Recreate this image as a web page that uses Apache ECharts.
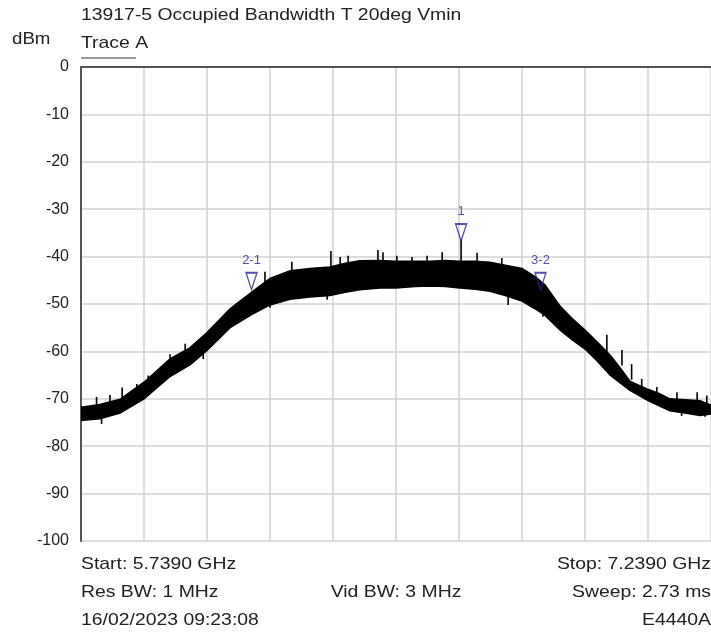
<!DOCTYPE html>
<html>
<head>
<meta charset="utf-8">
<script src="https://cdn.jsdelivr.net/npm/echarts@6/dist/echarts.min.js"></script>
<style>
  html, body { margin: 0; padding: 0; background: #fff; }
  #main { width: 711px; height: 636px; }
</style>
</head>
<body>
<div id="main"></div>
<script>
// sweep settings (GHz)
var startGHz = 5.739;
var stopGHz = 7.239;

// trace envelope, freq in GHz, level in dBm
var bandFreq = [5.739, 5.784, 5.832, 5.889, 5.951, 5.999, 6.039, 6.094, 6.144, 6.189,
                6.237, 6.284, 6.332, 6.368, 6.403, 6.451, 6.489, 6.534, 6.570, 6.606,
                6.641, 6.677, 6.713, 6.749, 6.789, 6.820, 6.844, 6.880, 6.908, 6.939,
                6.968, 6.999, 7.022, 7.046, 7.089, 7.118, 7.141, 7.177, 7.213, 7.239];
var bandLow  = [-74.6, -74.2, -73.0, -70.0, -65.3, -62.8, -59.8, -55.0, -52.3, -50.2,
                -49.0, -48.5, -48.2, -47.5, -47.0, -46.6, -46.6, -46.3, -46.2, -46.3,
                -46.6, -46.9, -47.3, -48.2, -49.4, -51.0, -52.4, -55.5, -57.5, -59.5,
                -62.0, -65.0, -66.6, -68.2, -70.4, -71.6, -72.5, -73.0, -73.5, -73.2];
var bandHigh = [-71.8, -71.2, -70.1, -66.5, -61.6, -59.2, -56.0, -51.0, -47.6, -44.6,
                -43.0, -42.5, -42.2, -41.4, -40.9, -40.8, -41.0, -41.0, -41.0, -40.8,
                -41.0, -41.0, -41.2, -41.8, -42.5, -44.2, -46.0, -50.5, -53.0, -55.5,
                -58.0, -60.8, -63.4, -66.3, -68.0, -69.0, -70.0, -70.2, -70.4, -71.3];

// single tall spikes above the trace
var peakFreq = [5.776, 5.808, 5.837, 5.872, 5.899, 5.927, 5.951, 5.987, 6.030, 6.177,
                6.241, 6.334, 6.356, 6.375, 6.446, 6.458, 6.491, 6.527, 6.563, 6.599,
                6.644, 6.682, 6.741, 6.991, 7.027, 7.050, 7.074, 7.110, 7.158, 7.206, 7.229];
var peakTop  = [-69.6, -69.2, -67.6, -66.9, -65.1, -64.1, -60.6, -58.4, -57.0, -43.2,
                -41.1, -38.8, -40.1, -39.8, -38.6, -39.1, -39.8, -40.1, -39.8, -39.1,
                -36.4, -39.2, -40.3, -56.5, -59.7, -62.7, -65.8, -67.5, -68.6, -68.6, -69.3];
var peakBase = [-72.0, -71.0, -70.0, -68.5, -67.0, -65.0, -63.0, -61.0, -58.5, -47.0,
                -44.0, -43.5, -43.0, -43.0, -42.5, -42.5, -42.5, -42.5, -42.5, -42.5,
                -42.5, -42.5, -43.5, -61.5, -63.0, -66.0, -68.0, -70.0, -71.0, -71.5, -71.5];

// single deep dips below the trace
var dipFreq   = [5.788, 6.030, 6.189, 6.325, 6.756, 6.839, 7.169, 7.225];
var dipBottom = [-75.3, -61.6, -50.8, -49.1, -50.2, -52.7, -73.6, -73.8];
var dipBase   = [-73.0, -59.0, -48.0, -46.0, -47.0, -49.0, -71.0, -71.5];

// markers
var markerNames = ['2-1', '1', '3-2'];
var markerFreq = [6.145, 6.644, 6.833];
var markerLevel = [-47.0, -36.7, -47.0];

// y axis ticks
var yMin = -100, yMax = 0, yStep = 10;

var titleText = '13917-5 Occupied Bandwidth T 20deg Vmin';
var infoLeft = ['Start: 5.7390 GHz', 'Res BW: 1 MHz', '16/02/2023 09:23:08'];
var infoMid = ['', 'Vid BW: 3 MHz', ''];
var infoRight = ['Stop: 7.2390 GHz', 'Sweep: 2.73 ms', 'E4440A'];

// x axis is in MHz from start so ticks line up with the 10 divisions
function toX(f) { return Math.round((f - startGHz) * 100000) / 100; }
var spanMHz = toX(stopGHz);

var chart = echarts.init(document.getElementById('main'), null, { renderer: 'canvas' });

var FONT = '"Liberation Sans", Arial, sans-serif';
var TXT = '#222';
var BLUE = '#25259a';

function txt(x, y, s, align, size, sx) {
    return {
        type: 'text', x: x, y: y, scaleX: sx || 1,
        style: { text: s, x: 0, y: 0, fill: TXT, align: align, verticalAlign: 'middle',
                 font: size + 'px ' + FONT }
    };
}

var graphics = [
    txt(81, 15, titleText, 'left', 17, 1.14),
    txt(12, 39, 'dBm', 'left', 17, 1.1),
    txt(81, 43, 'Trace A', 'left', 17, 1.14),
    { type: 'line', shape: { x1: 81, y1: 58, x2: 136, y2: 58 }, style: { stroke: '#333', lineWidth: 1 } }
];
var rowsY = [564, 592, 620];
for (var i = 0; i < 3; i++) {
    graphics.push(txt(81, rowsY[i], infoLeft[i], 'left', 17, 1.14));
    if (infoMid[i]) graphics.push(txt(396, rowsY[i], infoMid[i], 'center', 17, 1.14));
    graphics.push(txt(711, rowsY[i], infoRight[i], 'right', 17, 1.14));
}

function spikeSeries(freq, tip, base) {
    return {
        type: 'custom',
        data: freq.map(function (f, i) { return [toX(f), tip[i], base[i]]; }),
        renderItem: function (params, api) {
            var a = api.coord([api.value(0), api.value(2)]);
            var b = api.coord([api.value(0), api.value(1)]);
            return { type: 'line', shape: { x1: a[0], y1: a[1], x2: b[0], y2: b[1] },
                     style: { stroke: '#000', lineWidth: 1.6 } };
        },
        z: 3
    };
}

var markerData = markerFreq.map(function (f, i) {
    return { name: markerNames[i], value: [toX(f), markerLevel[i]] };
});

var option = {
    animation: false,
    backgroundColor: '#fff',
    grid: { left: 81, top: 67, width: 630, height: 474, containLabel: false },
    xAxis: [{
        type: 'value', min: 0, max: spanMHz, interval: 150,
        axisLine: { show: true, lineStyle: { color: '#555', width: 2 } },
        axisTick: { show: false },
        axisLabel: { show: false },
        splitLine: { show: true, lineStyle: { color: '#d2d2d2', width: 1.5 } }
    }, {
        type: 'value', position: 'top', min: 0, max: spanMHz, interval: 150,
        axisLine: { show: true, lineStyle: { color: '#555', width: 2 } },
        axisTick: { show: false },
        axisLabel: { show: false },
        splitLine: { show: false }
    }],
    yAxis: {
        type: 'value', min: yMin, max: yMax, interval: yStep,
        axisLine: { show: true, lineStyle: { color: '#555', width: 2 } },
        axisTick: { show: false },
        axisLabel: { color: TXT, fontSize: 16, fontFamily: FONT, margin: 12 },
        splitLine: { show: true, lineStyle: { color: '#d2d2d2', width: 1.5 } }
    },
    graphic: graphics,
    series: [{
        // trace drawn as a filled band between the read low / high envelopes
        type: 'custom',
        clip: true,
        data: [0],
        renderItem: function (params, api) {
            var pts = [];
            for (var i = 0; i < bandFreq.length; i++) {
                pts.push(api.coord([toX(bandFreq[i]), bandHigh[i]]));
            }
            for (var j = bandFreq.length - 1; j >= 0; j--) {
                pts.push(api.coord([toX(bandFreq[j]), bandLow[j]]));
            }
            return { type: 'polygon', shape: { points: pts },
                     style: { fill: '#000', stroke: '#000', lineWidth: 1.5 } };
        },
        z: 3
    },
    spikeSeries(peakFreq, peakTop, peakBase),
    spikeSeries(dipFreq, dipBottom, dipBase),
    {
        type: 'scatter',
        data: markerData,
        symbol: 'path://M0,0L10,0L5,17Z',
        symbolSize: [11, 17],
        symbolKeepAspect: false,
        symbolOffset: [0, '-50%'],
        itemStyle: { color: 'rgba(255,255,255,0)', borderColor: BLUE, borderWidth: 1.5 },
        label: {
            show: true, position: 'top', distance: 5,
            formatter: function (p) { return p.name; },
            color: BLUE, fontSize: 13, fontFamily: FONT
        },
        emphasis: { disabled: true },
        z: 5
    }]
};

chart.setOption(option);
</script>
</body>
</html>
